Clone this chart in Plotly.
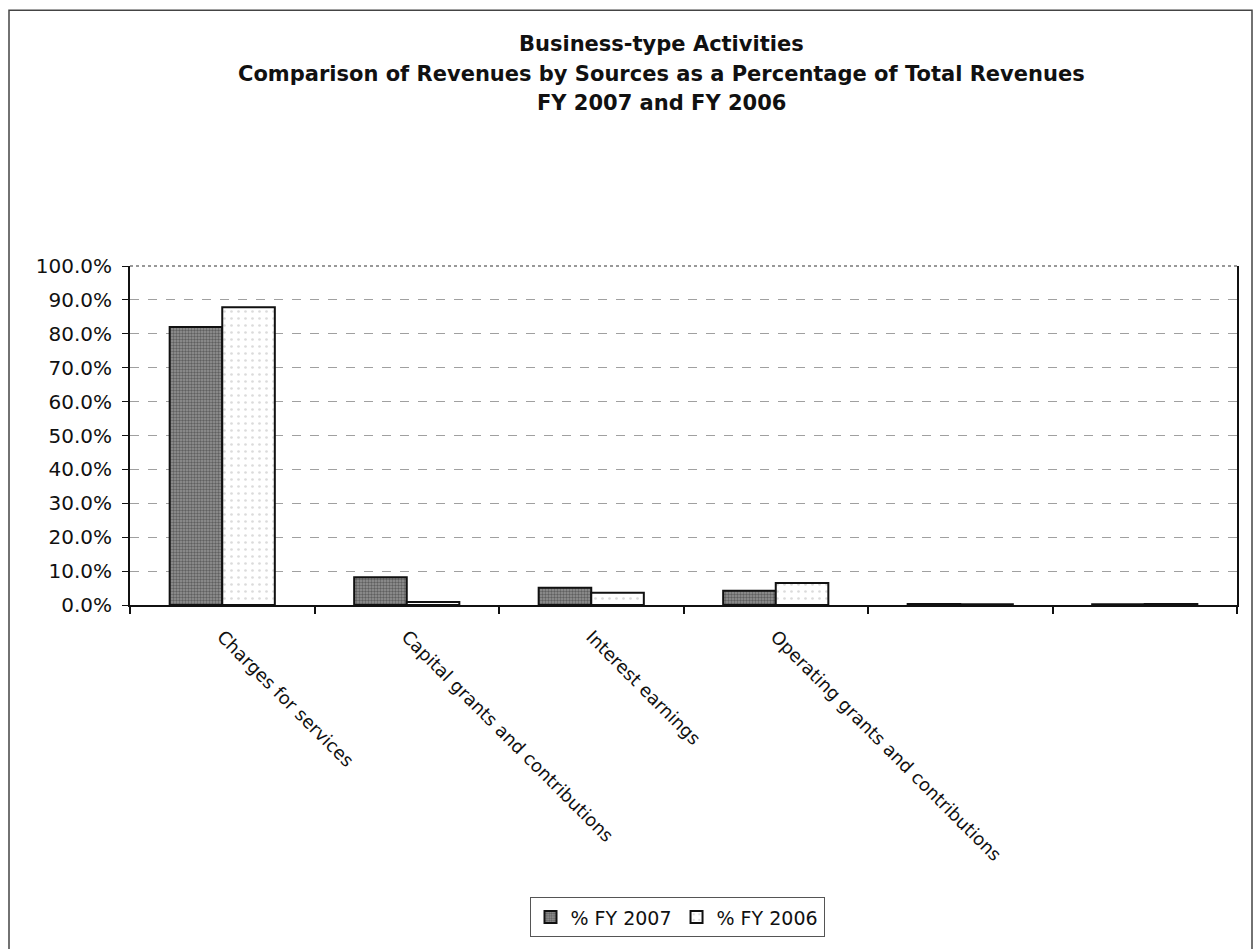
import plotly.graph_objects as go

# Revenue sources and their share of total revenues
categories = [
    "Charges for services",
    "Capital grants and contributions",
    "Interest earnings",
    "Operating grants and contributions",
    "",
    "",
]
fy2007 = [82.0, 8.2, 5.1, 4.2, 0.3, 0.2]
fy2006 = [87.8, 0.9, 3.6, 6.5, 0.2, 0.3]
y_ticks = [0, 10, 20, 30, 40, 50, 60, 70, 80, 90, 100]
y_tick_labels = [f"{v:.1f}%" for v in y_ticks]

FONT = "DejaVu Sans"
W, H = 1255, 949
L, R, T, B = 130, 18, 266, 341
plot_w = W - L - R
plot_h = H - T - B


def px_x(px):
    """Horizontal pixel position -> paper coordinate."""
    return (px - L) / plot_w


def px_y(py):
    """Vertical pixel position -> paper coordinate."""
    return (T + plot_h - py) / plot_h


x_pos = list(range(len(categories)))

fig = go.Figure()
fig.add_trace(go.Bar(
    x=x_pos, y=fy2007, name="% FY 2007",
    marker=dict(
        color="#8a8a8a",
        line=dict(color="#111111", width=2),
        pattern=dict(shape=".", fgcolor="#2a2a2a", bgcolor="#959595",
                     size=3, solidity=0.5),
    ),
))
fig.add_trace(go.Bar(
    x=x_pos, y=fy2006, name="% FY 2006",
    marker=dict(
        color="white",
        line=dict(color="#111111", width=2),
        pattern=dict(shape=".", fgcolor="#b8b8b8", bgcolor="white",
                     size=7, solidity=0.12),
    ),
))

title_lines = [
    "Business-type Activities",
    "Comparison of Revenues by Sources as a Percentage of Total Revenues",
    "FY 2007 and FY 2006",
]
annotations = [
    dict(text=f"<b>{line}</b>", xref="paper", yref="paper",
         x=px_x(661), y=px_y(42 + 30 * i),
         showarrow=False, xanchor="center", yanchor="middle",
         font=dict(family=FONT, size=21, color="#111111"))
    for i, line in enumerate(title_lines)
]

fig.update_layout(
    width=W, height=H,
    margin=dict(l=L, r=R, t=T, b=B),
    paper_bgcolor="white", plot_bgcolor="white",
    barmode="group", bargap=0.43, bargroupgap=0,
    font=dict(family=FONT, color="#111111"),
    annotations=annotations,
    legend=dict(
        orientation="h", xanchor="center", yanchor="middle",
        x=px_x(677), y=px_y(923),
        bordercolor="#555555", borderwidth=1,
        font=dict(family=FONT, size=19, color="#111111"),
        itemwidth=30, tracegroupgap=0,
    ),
    xaxis=dict(
        range=[-0.5, len(categories) - 0.5],
        tickmode="array", tickvals=x_pos, ticktext=categories,
        ticks="", tickangle=45, ticklabelstandoff=12,
        tickfont=dict(family=FONT, size=18, color="#111111"),
        showline=True, linecolor="#111111", linewidth=2,
        showgrid=False, zeroline=False,
        minor=dict(tickmode="linear", tick0=-0.5, dtick=1, ticks="outside",
                   ticklen=7, tickwidth=1.5, tickcolor="#111111", showgrid=False),
    ),
    yaxis=dict(
        range=[0, 100], tickmode="array", tickvals=y_ticks, ticktext=y_tick_labels,
        ticks="outside", ticklen=6, tickcolor="#111111", ticklabelstandoff=6,
        tickfont=dict(family=FONT, size=20, color="#111111"),
        showline=True, linecolor="#111111", linewidth=2, mirror=True,
        showgrid=True, gridcolor="#a0a0a0", griddash="dash", gridwidth=1,
        zeroline=False,
    ),
    shapes=[
        # outer chart frame
        dict(type="rect", xref="paper", yref="paper",
             x0=px_x(9), x1=px_x(1252), y0=px_y(960), y1=px_y(8),
             line=dict(color="#444444", width=1.5), layer="below"),
        # top edge of the plot area
        dict(type="line", xref="paper", yref="paper",
             x0=0, x1=1, y0=1, y1=1,
             line=dict(color="#777777", width=1.5, dash="dot")),
    ],
)

fig.write_html("out.html")
